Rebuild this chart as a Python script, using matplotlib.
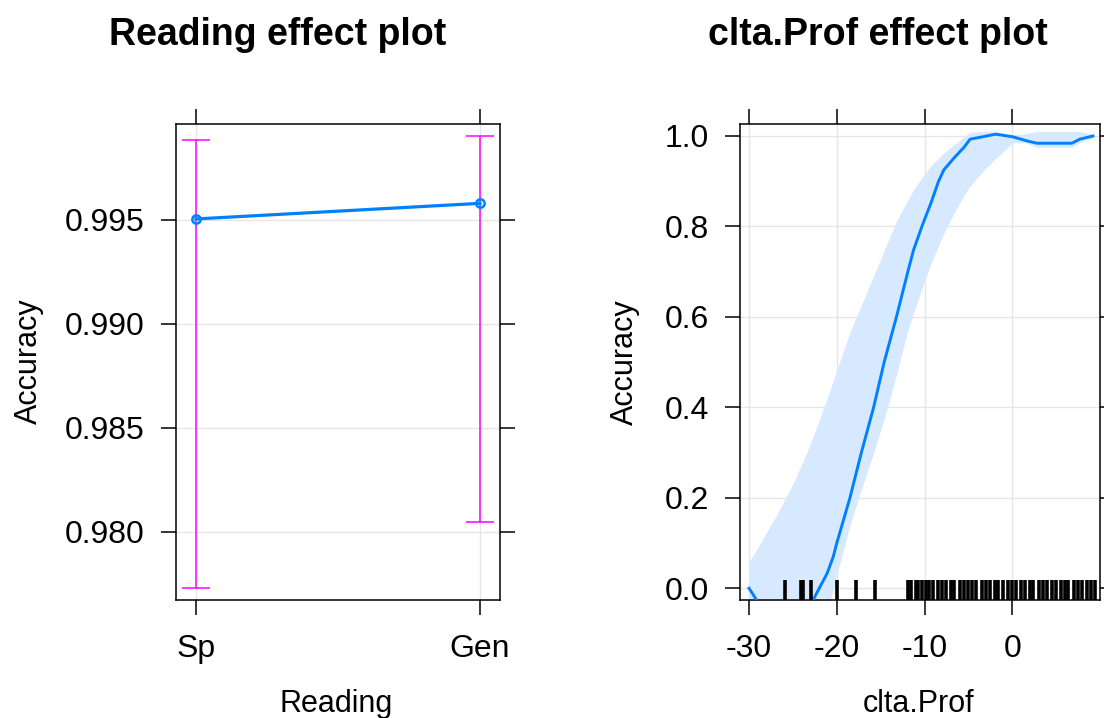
import matplotlib
matplotlib.use("Agg")
import matplotlib.pyplot as plt
import numpy as np

plt.rcParams['font.family'] = ['Liberation Sans', 'DejaVu Sans']
plt.rcParams['axes.unicode_minus'] = False

# ---------------- data ----------------

# Reading effect (categorical)
reading_levels = ['Sp', 'Gen']
reading_fit = [0.99505, 0.99580]
reading_lower = [0.97729, 0.98047]
reading_upper = [0.99885, 0.99905]

# clta.Prof effect (continuous)
prof_x = [-30, -29, -27, -25, -23.5, -22.7, -22.0, -21.1, -20.4, -20.0,
          -18.5, -17.2, -15.8, -14.6, -13.2, -11.9, -11.25, -10.3, -9.3,
          -8.4, -7.8, -6.7, -5.5, -4.8, -3.3, -1.9, 0.1, 1.5, 2.8, 4.5, 6.8,
          7.7, 9.2]
prof_fit = [0.0, -0.03, -0.07, -0.08, -0.06, -0.026, 0.0, 0.033, 0.07, 0.1,
            0.2, 0.3, 0.4, 0.5, 0.6, 0.7, 0.748, 0.8, 0.85,
            0.9, 0.925, 0.95, 0.975, 0.993, 0.9985, 1.004, 0.998, 0.99,
            0.984, 0.984, 0.984, 0.993, 1.0]
prof_lower = [-0.12, -0.12, -0.12, -0.12, -0.11, -0.095, -0.075, -0.05,
              -0.005, 0.03, 0.139, 0.218, 0.30, 0.374, 0.472, 0.571, 0.609,
              0.663, 0.716, 0.758, 0.785, 0.827, 0.869, 0.889, 0.923, 0.950,
              0.985, 0.985, 0.975, 0.975, 0.975, 0.985, 0.997]
prof_upper = [0.059, 0.09, 0.157, 0.230, 0.296, 0.336, 0.372, 0.42, 0.459,
              0.482, 0.566, 0.626, 0.691, 0.747, 0.812, 0.858, 0.881, 0.908,
              0.933, 0.951, 0.962, 0.979, 0.998, 1.009, 1.01, 1.01, 1.003,
              1.005, 1.01, 1.01, 1.01, 1.01, 1.003]

# observed clta.Prof values (rug)
prof_rug = [-25.9, -24.1, -23.8, -22.9, -20.0, -17.8, -15.7,
            -11.9, -11.5, -11.0, -10.7, -10.3, -9.8, -9.5, -9.0, -8.5, -8.0,
            -7.5, -7.0, -6.6, -6.0, -5.5, -5.0, -4.6, -4.1, -3.5, -3.0, -2.5,
            -2.0, -1.6, -1.0, -0.5, 0.0, 0.4, 1.0, 1.5, 2.0, 2.4, 3.0, 3.5,
            4.0, 4.5, 5.0, 5.5, 6.0, 6.4, 7.0, 7.5, 8.0, 8.5, 9.0, 9.4]

LINE = '#0080FF'
BAR = '#FF00FF'
BAND = '#D6E9FF'
GRID = '#E6E6E6'

W, H = 1104, 718
fig = plt.figure(figsize=(W / 100, H / 100), dpi=100)
ax1 = fig.add_axes([176 / W, 1 - 600 / H, 324 / W, 476 / H])
ax2 = fig.add_axes([740 / W, 1 - 600 / H, 360 / W, 476 / H])


def lattice_axes(ax):
    ax.set_axisbelow(True)
    ax.grid(True, color=GRID, lw=1.0)
    for s in ax.spines.values():
        s.set_linewidth(1.1)
    ax.tick_params(direction='out', length=10.5, width=1.1,
                   labelsize=23, top=True, right=True,
                   labeltop=False, labelright=False, colors='black')
    ax.tick_params(axis='x', pad=14)
    ax.tick_params(axis='y', pad=12)


# ---------------- Reading ----------------
xr = np.arange(1, len(reading_levels) + 1)
fit = np.array(reading_fit)
err = [fit - np.array(reading_lower), np.array(reading_upper) - fit]
ax1.errorbar(xr, fit, yerr=err, fmt='none', ecolor=BAR, elinewidth=1.1,
             capsize=10, capthick=1.1, zorder=2)
ax1.plot(xr, fit, color=LINE, lw=2.3, marker='o', ms=6, mfc='none',
         mec=LINE, mew=1.8, zorder=3)
ax1.set_xlim(1 - 20 / 284, 2 + 20 / 284)
ax1.set_ylim(0.97673, 0.999615)
ax1.set_xticks(xr)
ax1.set_xticklabels(reading_levels)
ax1.set_yticks([0.980, 0.985, 0.990, 0.995])
ax1.set_yticklabels(['0.980', '0.985', '0.990', '0.995'])
lattice_axes(ax1)

# ---------------- clta.Prof ----------------
ax2.fill_between(prof_x, prof_lower, prof_upper, color=BAND, lw=0, zorder=1)
ax2.plot(prof_x, prof_fit, color=LINE, lw=2.1, zorder=3)
ax2.vlines(prof_rug, 0, 0.042, color='black', lw=2.6,
           transform=ax2.get_xaxis_transform(), zorder=4)
ax2.set_xlim(-31.03, 10.0)
ax2.set_ylim(-0.0259, 1.0265)
ax2.set_xticks([-30, -20, -10, 0])
ax2.set_xticklabels(['-30', '-20', '-10', '0'])
ax2.set_yticks([0.0, 0.2, 0.4, 0.6, 0.8, 1.0])
ax2.set_yticklabels(['0.0', '0.2', '0.4', '0.6', '0.8', '1.0'])
lattice_axes(ax2)

# axis labels
fig.text(336 / W, 6 / H, 'Reading', ha='center', va='baseline', fontsize=22)
fig.text(919 / W, 6 / H, 'clta.Prof', ha='center', va='baseline', fontsize=22)
fig.text(29 / W, 1 - 361 / H, 'Accuracy', ha='center', va='center',
         rotation=90, fontsize=22)
fig.text(625 / W, 1 - 362 / H, 'Accuracy', ha='center', va='center',
         rotation=90, fontsize=22)

# panel titles
fig.text(277.5 / W, 1 - 45 / H, 'Reading effect plot', ha='center',
         va='baseline', fontsize=27, fontweight='bold')
fig.text(877.5 / W, 1 - 45 / H, 'clta.Prof effect plot', ha='center',
         va='baseline', fontsize=27, fontweight='bold')

fig.savefig('out.png', dpi=100)
